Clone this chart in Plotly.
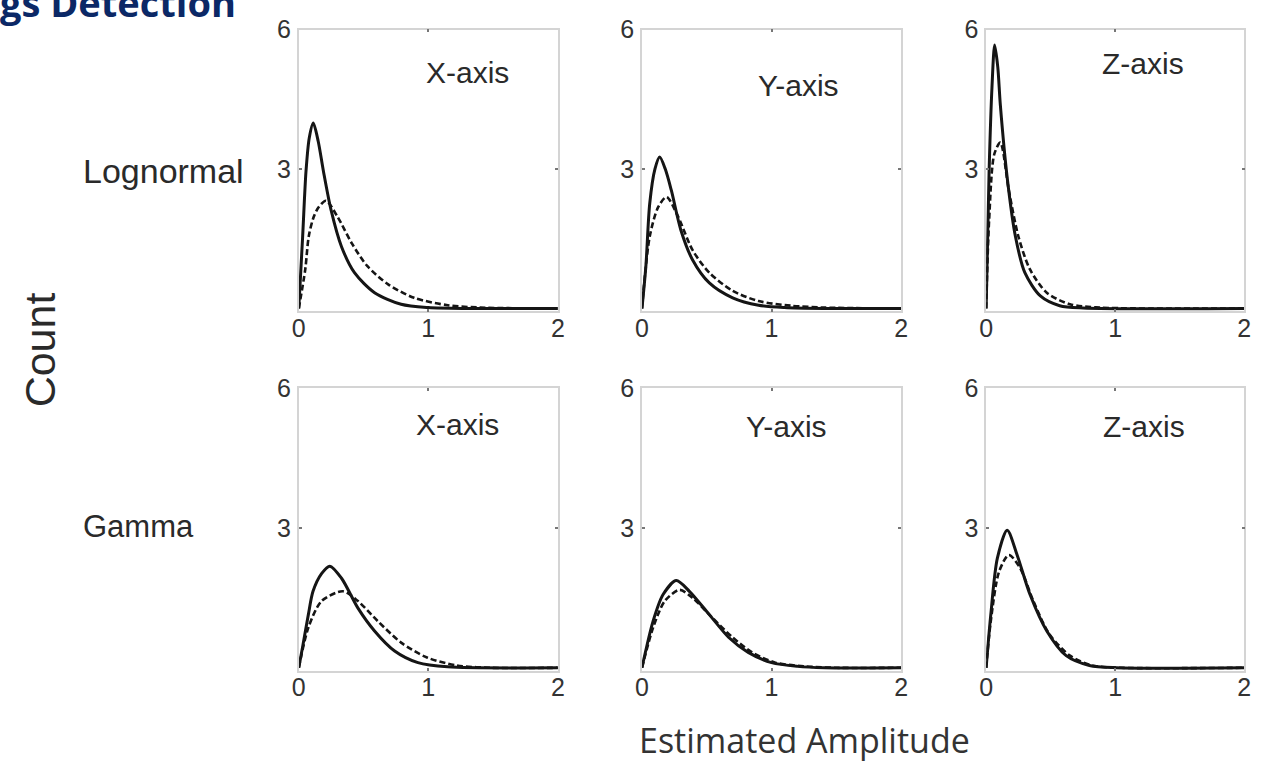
import plotly.graph_objects as go

W, H = 1276, 763

# ---------------- data ----------------
# Row 1: Lognormal ; Row 2: Gamma ; columns: X-, Y-, Z-axis
ln_x_solid_amp = [0, 0.03, 0.056, 0.081, 0.112, 0.15, 0.19, 0.25, 0.33, 0.43, 0.585, 0.79, 1.0, 1.3, 2.0]
ln_x_solid_cnt = [0, 1.55, 2.96, 3.67, 3.99, 3.6, 2.96, 2.11, 1.33, 0.77, 0.34, 0.09, 0.02, 0, 0]
ln_x_dash_amp = [0, 0.05, 0.077, 0.115, 0.153, 0.21, 0.3, 0.41, 0.53, 0.69, 0.89, 1.15, 1.4, 2.0]
ln_x_dash_cnt = [0, 0.84, 1.55, 1.97, 2.18, 2.32, 1.97, 1.40, 0.91, 0.52, 0.23, 0.07, 0.02, 0]

ln_y_solid_amp = [0, 0.03, 0.06, 0.1, 0.137, 0.18, 0.227, 0.30, 0.39, 0.52, 0.70, 0.90, 1.1, 1.4, 2.0]
ln_y_solid_cnt = [0, 0.9, 2.26, 3.0, 3.26, 3.0, 2.54, 1.69, 1.05, 0.55, 0.23, 0.07, 0.02, 0, 0]
ln_y_dash_amp = [0, 0.06, 0.125, 0.19, 0.28, 0.39, 0.52, 0.70, 0.90, 1.15, 1.41, 2.0]
ln_y_dash_cnt = [0, 1.55, 2.18, 2.40, 1.97, 1.26, 0.77, 0.38, 0.16, 0.06, 0.02, 0]

ln_z_solid_amp = [0, 0.023, 0.045, 0.066, 0.09, 0.11, 0.163, 0.227, 0.30, 0.42, 0.57, 0.75, 2.0]
ln_z_solid_cnt = [0, 2.96, 4.75, 5.67, 5.2, 4.38, 2.82, 1.55, 0.77, 0.27, 0.06, 0.01, 0]
ln_z_dash_amp = [0, 0.023, 0.063, 0.11, 0.176, 0.25, 0.34, 0.47, 0.65, 0.88, 2.0]
ln_z_dash_cnt = [0, 1.90, 3.32, 3.57, 2.54, 1.55, 0.84, 0.34, 0.09, 0.02, 0]

gm_x_solid_amp = [0, 0.033, 0.074, 0.11, 0.176, 0.24, 0.33, 0.457, 0.585, 0.74, 0.92, 1.15, 2.0]
gm_x_solid_cnt = [0, 0.5, 1.14, 1.64, 2.02, 2.18, 1.92, 1.28, 0.79, 0.36, 0.11, 0.02, 0]
gm_x_dash_amp = [0, 0.074, 0.176, 0.34, 0.457, 0.61, 0.79, 0.99, 1.22, 1.48, 2.0]
gm_x_dash_cnt = [0, 0.86, 1.43, 1.64, 1.43, 1.00, 0.54, 0.22, 0.05, 0, 0]

gm_y_solid_amp = [0, 0.086, 0.163, 0.265, 0.366, 0.52, 0.67, 0.82, 1.0, 1.2, 1.41, 2.0]
gm_y_solid_cnt = [0, 1.0, 1.57, 1.87, 1.64, 1.14, 0.65, 0.33, 0.11, 0.03, 0, 0]
gm_y_dash_amp = [0, 0.086, 0.176, 0.29, 0.39, 0.544, 0.70, 0.85, 1.03, 1.26, 1.5, 2.0]
gm_y_dash_cnt = [0, 0.86, 1.43, 1.67, 1.50, 1.07, 0.65, 0.33, 0.11, 0.03, 0, 0]

gm_z_solid_amp = [0, 0.036, 0.087, 0.163, 0.24, 0.34, 0.47, 0.62, 0.80, 1.01, 2.0]
gm_z_solid_cnt = [0, 1.14, 2.35, 2.95, 2.42, 1.57, 0.79, 0.26, 0.05, 0, 0]
gm_z_dash_amp = [0, 0.036, 0.10, 0.176, 0.265, 0.366, 0.49, 0.65, 0.82, 1.05, 2.0]
gm_z_dash_cnt = [0, 1.0, 2.06, 2.42, 2.13, 1.43, 0.72, 0.26, 0.05, 0, 0]

panel_titles = ["X-axis", "Y-axis", "Z-axis", "X-axis", "Y-axis", "Z-axis"]
row_labels = ["Lognormal", "Gamma"]
x_tick_vals = [0, 1, 2]
x_tick_text = ["0", "1", "2"]
y_tick_vals = [3, 6]
y_tick_text = ["3", "6"]
title_text = "gs Detection"
y_title = "Count"
x_title = "Estimated Amplitude"

series = [
    (ln_x_solid_amp, ln_x_solid_cnt, ln_x_dash_amp, ln_x_dash_cnt),
    (ln_y_solid_amp, ln_y_solid_cnt, ln_y_dash_amp, ln_y_dash_cnt),
    (ln_z_solid_amp, ln_z_solid_cnt, ln_z_dash_amp, ln_z_dash_cnt),
    (gm_x_solid_amp, gm_x_solid_cnt, gm_x_dash_amp, gm_x_dash_cnt),
    (gm_y_solid_amp, gm_y_solid_cnt, gm_y_dash_amp, gm_y_dash_cnt),
    (gm_z_solid_amp, gm_z_solid_cnt, gm_z_dash_amp, gm_z_dash_cnt),
]

# ---------------- layout geometry (pixels) ----------------
col_px = [(295, 557), (642, 904), (990, 1251)]
row_px = [(16, 300), (381, 666)]   # (top -> y=6, bottom -> y=0)
Y_LO = -0.06

def px_x(p):
    return p / W

def px_y(p):
    return 1 - p / H

SANS = "Liberation Sans, Arial, sans-serif"

fig = go.Figure()
layout = dict(
    width=W, height=H,
    margin=dict(l=0, r=0, t=0, b=0),
    paper_bgcolor="white", plot_bgcolor="white",
    showlegend=False,
    font=dict(family=SANS, color="#2a2a2a"),
)

tick_font = dict(family=SANS, size=25, color="#333333")
line_col = "#151515"

for i, (sx, sy, dx, dy) in enumerate(series):
    r, c = divmod(i, 3)
    n = i + 1
    xa = "x" if n == 1 else f"x{n}"
    ya = "y" if n == 1 else f"y{n}"
    top, bot = row_px[r]
    bot_ext = bot + (0 - Y_LO) * (bot - top) / 6.0
    fig.add_trace(go.Scatter(x=dx, y=dy, xaxis=xa, yaxis=ya, mode="lines",
                             line=dict(color=line_col, width=2.6, dash="6px,3px",
                                       shape="spline", smoothing=0.8)))
    fig.add_trace(go.Scatter(x=sx, y=sy, xaxis=xa, yaxis=ya, mode="lines",
                             line=dict(color=line_col, width=3.0,
                                       shape="spline", smoothing=0.8)))
    xkey = "xaxis" if n == 1 else f"xaxis{n}"
    ykey = "yaxis" if n == 1 else f"yaxis{n}"
    layout[xkey] = dict(
        domain=[px_x(col_px[c][0]), px_x(col_px[c][1])],
        anchor=ya, range=[0, 2], tickvals=x_tick_vals, ticktext=x_tick_text,
        showgrid=False, zeroline=False, showline=True, mirror="allticks",
        linecolor="#d4d4d4", linewidth=1.5, ticks="inside", ticklen=3,
        tickcolor="#777777", tickwidth=2, tickfont=tick_font, ticklabelstandoff=-6,
        fixedrange=True,
    )
    layout[ykey] = dict(
        domain=[px_y(bot_ext), px_y(top)],
        anchor=xa, range=[Y_LO, 6], tickvals=y_tick_vals, ticktext=y_tick_text,
        showgrid=False, zeroline=False, showline=True, mirror="allticks",
        linecolor="#d4d4d4", linewidth=1.5, ticks="inside", ticklen=3,
        tickcolor="#777777", tickwidth=2, tickfont=tick_font, ticklabelstandoff=1,
        fixedrange=True,
    )

fig.update_layout(**layout)

ann = []
title_pos = [(466, 60), (800, 73), (1149, 50), (456, 418), (788, 420), (1150, 420)]
for t, (px, py) in zip(panel_titles, title_pos):
    ann.append(dict(text=t, x=px_x(px), y=px_y(py), xref="paper", yref="paper",
                    xanchor="center", yanchor="middle", showarrow=False,
                    font=dict(size=30, color="#2a2a2a", family=SANS)))
ann.append(dict(text=row_labels[0], x=px_x(75), y=px_y(160), xref="paper", yref="paper",
                xanchor="left", yanchor="middle", showarrow=False,
                font=dict(size=34, color="#2a2a2a", family=SANS)))
ann.append(dict(text=row_labels[1], x=px_x(75), y=px_y(522), xref="paper", yref="paper",
                xanchor="left", yanchor="middle", showarrow=False,
                font=dict(size=31, color="#2a2a2a", family=SANS)))
ann.append(dict(text=y_title, x=px_x(33), y=px_y(342), xref="paper", yref="paper",
                xanchor="center", yanchor="middle", showarrow=False, textangle=-90,
                font=dict(size=43, color="#2a2a2a", family=SANS)))
ann.append(dict(text=x_title, x=px_x(806), y=px_y(740), xref="paper", yref="paper",
                xanchor="center", yanchor="middle", showarrow=False,
                font=dict(size=34, color="#333333", family="Open Sans, Lato, sans-serif")))
ann.append(dict(text="<b>" + title_text + "</b>", x=px_x(-9), y=px_y(-12), xref="paper", yref="paper",
                xanchor="left", yanchor="middle", showarrow=False,
                font=dict(size=38, color="#0b2866", family="Open Sans, Lato, sans-serif")))

fig.update_layout(annotations=ann)
fig.write_html(
    "out.html",
    config={"displayModeBar": False},
    post_script="document.body.style.margin='0';document.body.style.padding='0';document.body.style.overflow='hidden';",
)
